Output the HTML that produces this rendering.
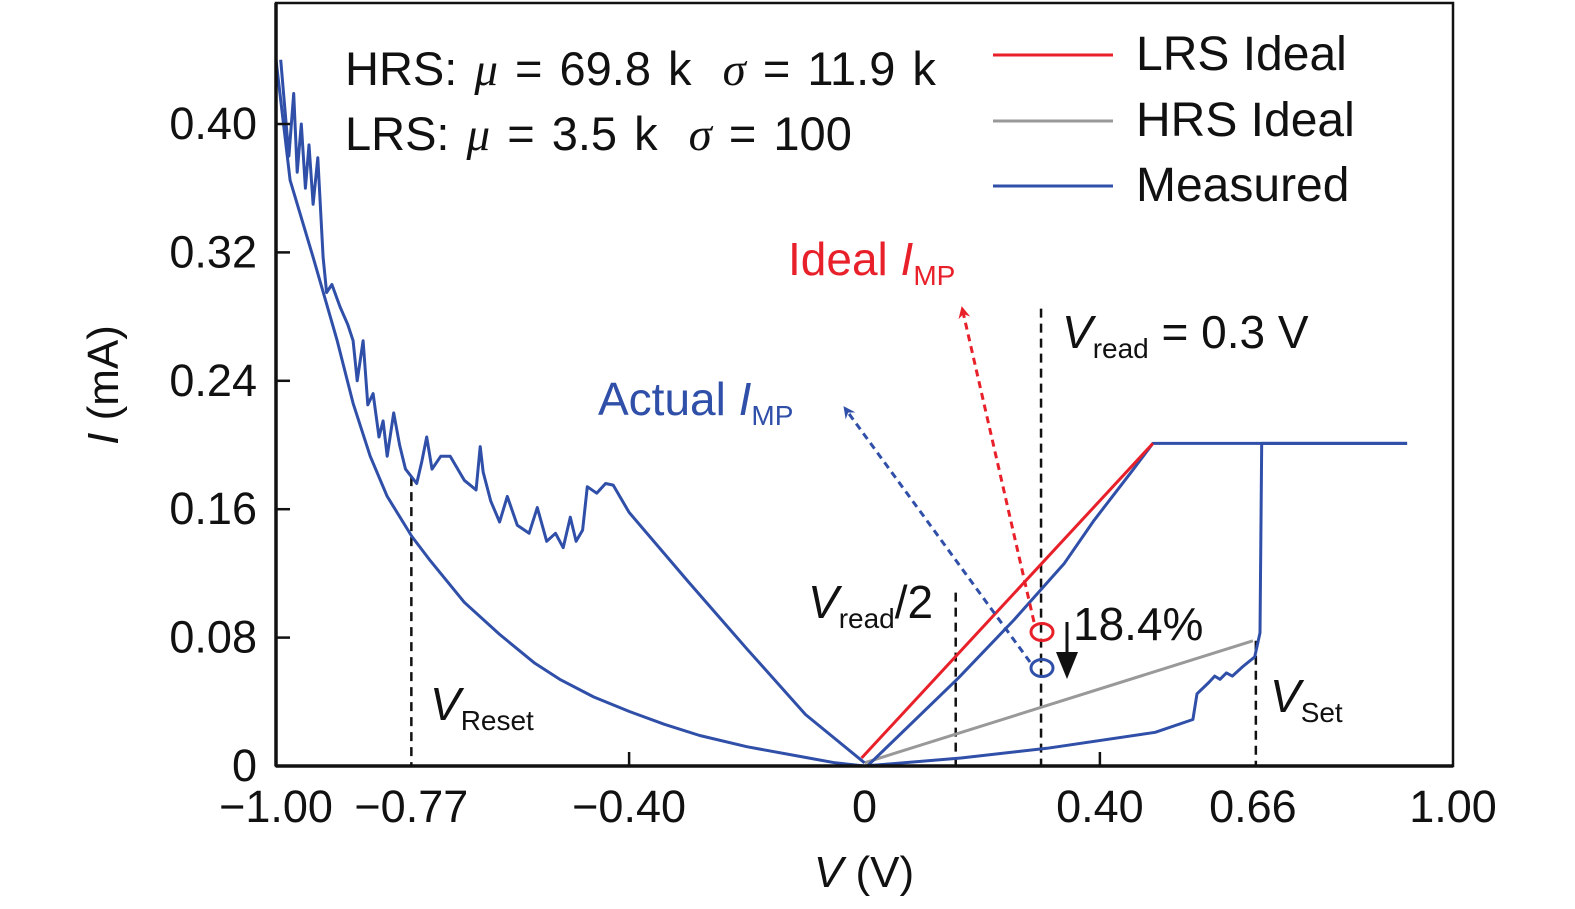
<!DOCTYPE html>
<html><head><meta charset="utf-8"><style>
html,body{margin:0;padding:0;background:#fff;}
svg{display:block;font-family:"Liberation Sans","DejaVu Sans",sans-serif;}
</style></head><body>
<svg id="chart" width="1575" height="909" viewBox="0 0 1575 909">
<defs>
<marker id="ahR" markerWidth="12" markerHeight="12" refX="6" refY="6" orient="auto" markerUnits="userSpaceOnUse" viewBox="0 0 12 12"><path d="M0,0 L12,6 L0,12 L4,6 Z" fill="#e8202a"/></marker>
<marker id="ahB" markerWidth="12" markerHeight="12" refX="6" refY="6" orient="auto" markerUnits="userSpaceOnUse" viewBox="0 0 12 12"><path d="M0,0 L12,6 L0,12 L4,6 Z" fill="#2f4fa8"/></marker>
</defs>
<g id="plot"></g>
<g id="ann" font-size="46">
<text x="345" y="85" font-size="47" fill="#111" word-spacing="4">HRS: <tspan font-style="italic" font-family="Liberation Serif">μ</tspan> = 69.8 k  <tspan font-style="italic" font-family="Liberation Serif" dx="14">σ</tspan> = 11.9 k</text>
<text x="345" y="150" font-size="47" fill="#111" word-spacing="4">LRS: <tspan font-style="italic" font-family="Liberation Serif">μ</tspan> = 3.5 k  <tspan font-style="italic" font-family="Liberation Serif" dx="14">σ</tspan> = 100</text>
<g>
<line x1="993" y1="55" x2="1113" y2="55" stroke="#e8202a" stroke-width="3"/>
<text x="1136" y="70" font-size="48" fill="#111">LRS Ideal</text>
<line x1="993" y1="121" x2="1113" y2="121" stroke="#999" stroke-width="3"/>
<text x="1136" y="136" font-size="48" fill="#111">HRS Ideal</text>
<line x1="993" y1="186" x2="1113" y2="186" stroke="#2f4fa8" stroke-width="3"/>
<text x="1136" y="201" font-size="48" fill="#111">Measured</text>
</g>
<text x="788" y="275" fill="#e8202a">Ideal <tspan font-style="italic">I</tspan><tspan font-size="28" dy="10">MP</tspan></text>
<text x="598" y="415" fill="#2f4fa8">Actual  <tspan font-style="italic">I</tspan><tspan font-size="28" dy="10">MP</tspan></text>
<text x="1062" y="348" fill="#111"><tspan font-style="italic">V</tspan><tspan font-size="28" dy="10">read</tspan><tspan dy="-10"> = 0.3 V</tspan></text>
<text x="808" y="618" fill="#111"><tspan font-style="italic">V</tspan><tspan font-size="28" dy="10">read</tspan><tspan dy="-10">/2</tspan></text>
<text x="1073" y="640" fill="#111">18.4%</text>
<text x="430" y="720" fill="#111"><tspan font-style="italic">V</tspan><tspan font-size="28" dy="10">Reset</tspan></text>
<text x="1270" y="712" fill="#111"><tspan font-style="italic">V</tspan><tspan font-size="28" dy="10">Set</tspan></text>
<text x="864" y="887" text-anchor="middle" font-size="44" fill="#111"><tspan font-style="italic">V</tspan> (V)</text>
<text transform="translate(118,385) rotate(-90)" text-anchor="middle" font-size="44" fill="#111"><tspan font-style="italic">I</tspan> (mA)</text>
</g>
</svg>
<script>
const xTicks = [-1, -0.77, -0.4, 0, 0.4, 0.66, 1];
const xTickLabels = ["\u22121.00", "\u22120.77", "\u22120.40", "0", "0.40", "0.66", "1.00"];
const yTicks = [0, 0.08, 0.16, 0.24, 0.32, 0.40];
const yTickLabels = ["0", "0.08", "0.16", "0.24", "0.32", "0.40"];
const lrsIdealV = [-0.005, 0.49];
const lrsIdealI = [0.005, 0.201];
const hrsIdealV = [0, 0.66];
const hrsIdealI = [0.002, 0.078];
const lrsMeasV = [0.005, 0.16, 0.254, 0.339, 0.39, 0.455, 0.49, 0.922];
const lrsMeasI = [0.0, 0.055, 0.091, 0.126, 0.153, 0.184, 0.201, 0.201];
const setV = [0, 0.164, 0.31, 0.494, 0.558, 0.565, 0.585, 0.595, 0.604, 0.615, 0.625, 0.643, 0.663, 0.672, 0.675, 0.922];
const setI = [0, 0.005, 0.011, 0.021, 0.029, 0.045, 0.052, 0.056, 0.054, 0.058, 0.056, 0.062, 0.068, 0.083, 0.201, 0.201];
const resetLowV = [-1.0, -0.976, -0.937, -0.896, -0.869, -0.84, -0.811, -0.769, -0.738, -0.68, -0.62, -0.56, -0.518, -0.46, -0.4, -0.34, -0.28, -0.2, -0.11, -0.05, 0];
const resetLowI = [0.44, 0.365, 0.317, 0.265, 0.226, 0.193, 0.168, 0.143, 0.128, 0.102, 0.082, 0.064, 0.054, 0.043, 0.034, 0.026, 0.019, 0.012, 0.006, 0.002, 0];
const resetHighV = [-0.992, -0.985, -0.978, -0.97, -0.964, -0.957, -0.95, -0.944, -0.937, -0.929, -0.92, -0.914, -0.905, -0.891, -0.878, -0.869, -0.862, -0.852, -0.844, -0.835, -0.825, -0.818, -0.811, -0.80, -0.79, -0.78, -0.761, -0.752, -0.744, -0.735, -0.72, -0.704, -0.68, -0.66, -0.653, -0.648, -0.635, -0.62, -0.607, -0.59, -0.57, -0.556, -0.54, -0.525, -0.512, -0.5, -0.49, -0.479, -0.471, -0.455, -0.44, -0.427, -0.4, -0.3, -0.2, -0.1, 0];
const resetHighI = [0.44, 0.41, 0.38, 0.419, 0.37, 0.40, 0.36, 0.387, 0.35, 0.379, 0.317, 0.295, 0.30, 0.286, 0.275, 0.265, 0.24, 0.265, 0.225, 0.232, 0.205, 0.215, 0.193, 0.22, 0.20, 0.185, 0.176, 0.19, 0.205, 0.185, 0.193, 0.193, 0.178, 0.172, 0.199, 0.183, 0.165, 0.152, 0.168, 0.15, 0.145, 0.161, 0.14, 0.145, 0.136, 0.155, 0.14, 0.147, 0.174, 0.17, 0.176, 0.175, 0.158, 0.115, 0.073, 0.032, 0.002];
const vLinesV = [-0.77, 0.155, 0.30, 0.665];
const vLinesTopI = [0.18, 0.108, 0.285, 0.078];

const X0 = 276, X1 = 1453, Y0 = 766, Y1 = 3;
function sx(v){ return X0 + (v + 1) / 2 * (X1 - X0); }
function sy(i){ return Y0 - i / 0.40 * 642; }
const NS = 'http://www.w3.org/2000/svg';
const plot = document.getElementById('plot');
function mk(tag, attrs){ const e = document.createElementNS(NS, tag); for (const k in attrs) e.setAttribute(k, attrs[k]); plot.appendChild(e); return e; }
function pts(vs, is){ return vs.map((v, k) => sx(v).toFixed(1) + ',' + sy(is[k]).toFixed(1)).join(' '); }

vLinesV.forEach((v, k) => {
  const l = mk('line', {x1: sx(v), x2: sx(v), y1: sy(vLinesTopI[k]), y2: Y0, stroke: '#111', 'stroke-width': 2.5, 'stroke-dasharray': '9,6'});
  
  
});
let s;
s = mk('polyline', {points: pts(hrsIdealV, hrsIdealI), fill: 'none', stroke: '#999', 'stroke-width': 3});


s = mk('polyline', {points: pts(setV, setI), fill: 'none', stroke: '#2f4fa8', 'stroke-width': 3, 'stroke-linejoin': 'round'});


s = mk('polyline', {points: pts(lrsMeasV, lrsMeasI), fill: 'none', stroke: '#2f4fa8', 'stroke-width': 3, 'stroke-linejoin': 'round'});


s = mk('polyline', {points: pts(resetLowV, resetLowI), fill: 'none', stroke: '#2f4fa8', 'stroke-width': 3, 'stroke-linejoin': 'round'});


s = mk('polyline', {points: pts(resetHighV, resetHighI), fill: 'none', stroke: '#2f4fa8', 'stroke-width': 3, 'stroke-linejoin': 'round'});


s = mk('polyline', {points: pts(lrsIdealV, lrsIdealI), fill: 'none', stroke: '#e8202a', 'stroke-width': 3});



s = mk('line', {x1: 1034, y1: 622, x2: 963, y2: 312, stroke: '#e8202a', 'stroke-width': 3, 'stroke-dasharray': '7,5', 'marker-end': 'url(#ahR)'});


s = mk('line', {x1: 1030, y1: 662, x2: 847, y2: 411, stroke: '#2f4fa8', 'stroke-width': 3, 'stroke-dasharray': '7,5', 'marker-end': 'url(#ahB)'});


s = mk('ellipse', {cx: 1042, cy: 632, rx: 11, ry: 8.5, fill: 'none', stroke: '#e8202a', 'stroke-width': 3});


s = mk('ellipse', {cx: 1042, cy: 668, rx: 11, ry: 8.5, fill: 'none', stroke: '#2f4fa8', 'stroke-width': 3});


s = mk('line', {x1: 1067, y1: 622, x2: 1067, y2: 660, stroke: '#111', 'stroke-width': 3});


s = mk('path', {d: 'M1056,652 L1078,652 L1067,679 Z', fill: '#111'});



s = mk('rect', {x: X0, y: Y1, width: X1 - X0, height: Y0 - Y1, fill: 'none', stroke: '#111', 'stroke-width': 2.5});


s = mk('line', {x1: X0, y1: Y0, x2: X1, y2: Y0, stroke: '#111', 'stroke-width': 3.5});


s = mk('line', {x1: X0, y1: Y1, x2: X0, y2: Y0, stroke: '#111', 'stroke-width': 3.5});



xTicks.forEach((v, k) => {
  if ([-0.4, 0.4].includes(v)) {
    const t = mk('line', {x1: sx(v), x2: sx(v), y1: Y0, y2: Y0 - 14, stroke: '#111', 'stroke-width': 2.5});
    
    
  }
  const tx = mk('text', {x: sx(v), y: 822, 'text-anchor': 'middle', 'font-size': 45, fill: '#111'});
  tx.textContent = xTickLabels[k];
  
  
});
yTicks.forEach((v, k) => {
  const t = mk('line', {x1: X0, x2: X0 + 14, y1: sy(v), y2: sy(v), stroke: '#111', 'stroke-width': 2.5});
  
  
  const tx = mk('text', {x: 257, y: sy(v) + 15, 'text-anchor': 'end', 'font-size': 45, fill: '#111'});
  tx.textContent = yTickLabels[k];
  
  
});
</script>
</body></html>
